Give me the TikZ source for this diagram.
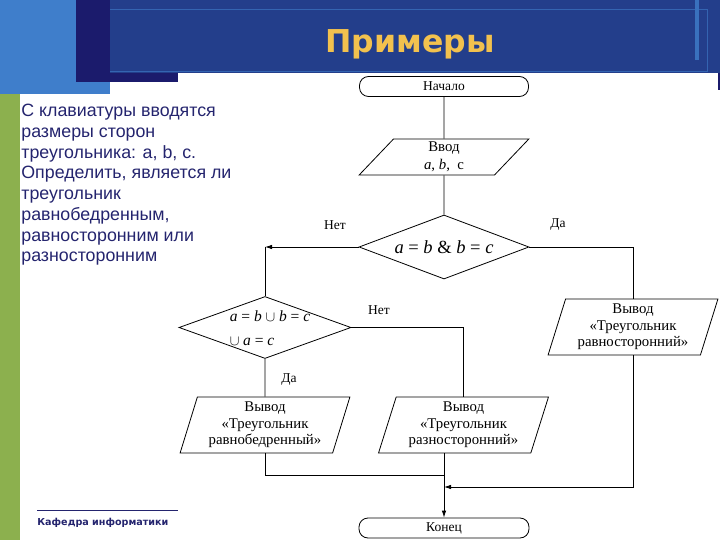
\documentclass[tikz,border=0pt]{standalone}
\usepackage{fontspec}
\setmainfont{Liberation Serif}
\newfontfamily\sansfont{Liberation Sans}
\newfontfamily\headfont{DejaVu Sans}
\usepackage{xcolor}
\usepackage{tikz}
\usetikzlibrary{shapes,arrows.meta}
\definecolor{barblue}{HTML}{233E8B}
\definecolor{darknavy}{HTML}{1B1B6C}
\definecolor{skyblue}{HTML}{3F7ECB}
\definecolor{leafgreen}{HTML}{8CB04E}
\definecolor{goldtext}{HTML}{F2C14E}
\definecolor{inktext}{HTML}{24246E}
\tikzset{term/.style={rectangle,draw,rounded corners=9pt,minimum width=169pt,minimum height=20pt,inner sep=0pt,font=\fontsize{13.5}{15}\selectfont}}
\tikzset{io/.style={trapezium,draw,trapezium left angle=73,trapezium right angle=107,trapezium stretches=true,minimum width=170pt,minimum height=56pt,inner sep=1pt,align=center,font=\fontsize{14.8}{16.5}\selectfont}}
\tikzset{cond/.style={diamond,draw,minimum width=170pt,minimum height=64pt,inner sep=0pt}}
\tikzset{lbl/.style={font=\fontsize{13.5}{15}\selectfont}}

\begin{document}
\begin{tikzpicture}[x=1pt,y=-1pt,line width=0.8pt,>={Latex[length=7pt,width=4.5pt]}]
    \useasboundingbox (0,0) rectangle (720,540);
    % slide background
    \fill[skyblue] (0,0) rectangle (110,94);
    \fill[leafgreen] (0,94) rectangle (20,540);
    \fill[darknavy] (76,0) rectangle (178,82);
    \fill[barblue] (110,0) rectangle (720,73);
    \draw[skyblue!60!barblue,line width=1pt] (110,10) -- (707,10) -- (707,72) -- (110,72);
    \fill[skyblue!80!barblue] (695,0) rectangle (699,60);
    \fill[darknavy] (718,73) rectangle (720,90);
    \node[anchor=base,text=goldtext,font=\headfont\bfseries\fontsize{31.5}{36}\selectfont] (title) at (410,53) {Примеры};

    \node[anchor=north west,inner sep=0pt,align=left,text=inktext,font=\sansfont\fontsize{17.8}{20.7}\selectfont] (task) at (21,104) {С клавиатуры вводятся\\размеры сторон\\треугольника: a, b, c.\\Определить, является ли\\треугольник\\равнобедренным,\\равносторонним или\\разносторонним};

    \draw[inktext,line width=0.8pt] (37,510) -- (178,510);
    \node[anchor=base west,inner sep=0pt,text=inktext,font=\headfont\bfseries\fontsize{9.6}{11}\selectfont] (dept) at (37,525.5) {Кафедра информатики};

    % flowchart
    \node[term] (start) at (444,86.5) {Начало};
    \node[io,trapezium left angle=66,trapezium right angle=114,minimum height=36pt,font=\fontsize{14.8}{18}\selectfont] (input) at (444,157) {Ввод\\\textit{a}, \textit{b}, ~c};
    \node[cond] (check1) at (444,247) {};
    \node[font=\fontsize{18.5}{20}\selectfont] (check1txt) at (check1) {\textit{a} = \textit{b} \& \textit{b} = \textit{c}};
    \node[cond,minimum width=172pt,minimum height=62pt] (check2) at (265,327.5) {};
    \node[align=left,font=\fontsize{15.5}{24}\selectfont] (check2txt) at (270,328) {\textit{a} = \textit{b} $\cup$ \textit{b} = \textit{c}\\$\cup$ \textit{a} = \textit{c}};
    \node[io] (equal) at (633,327) {Вывод\\«Треугольник\\равносторонний»};
    \node[io] (isosc) at (265,425) {Вывод\\«Треугольник\\равнобедренный»};
    \node[io] (scalene) at (463.5,425) {Вывод\\«Треугольник\\разносторонний»};
    \node[term,minimum width=170pt] (stop) at (444,528) {Конец};
    \coordinate (joinA) at (444,475);
    \coordinate (joinB) at (444,487);

    \node[lbl] (no1) at (335,225) {Нет};
    \node[lbl] (yes1) at (558,225) {Да};
    \node[lbl] (no2) at (379,310) {Нет};
    \node[lbl] (yes2) at (289,380) {Да};

    \draw (start) -- (input);
    \draw (input) -- (check1);
    \draw[->] (check1.west) -- (check1.west -| check2.north);
    \draw (check1.west -| check2.north) -- (check2.north);
    \draw (check1.east) -| (equal.north);
    \draw (check2.east) -| (scalene.north);
    \draw (check2.south) -- (isosc.north);
    \draw (isosc.south) |- (joinA);
    \draw[->] (equal.south) |- (joinB);
    \draw[->] (scalene.south -| stop.north) -- (stop.north);
\end{tikzpicture}
\end{document}
